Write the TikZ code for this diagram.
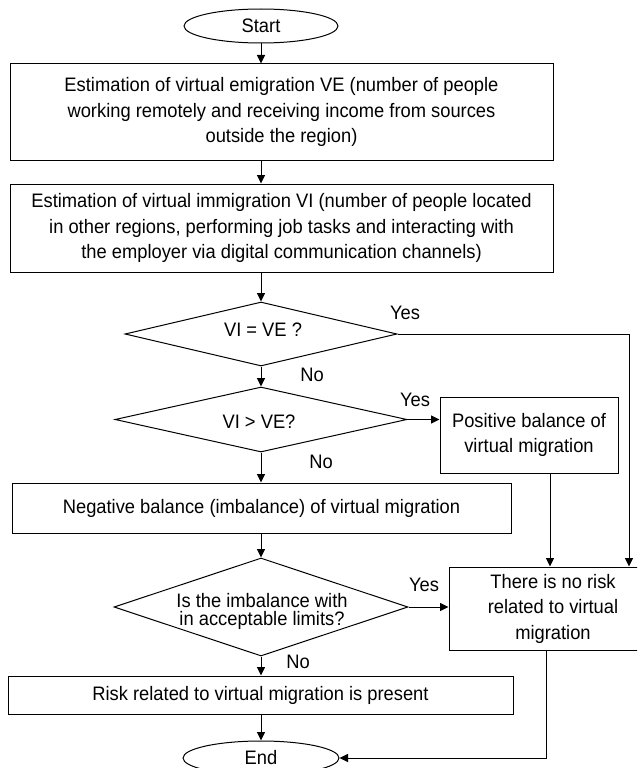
\documentclass[tikz,border=0pt]{standalone}
\usepackage{fontspec}
\setmainfont{Liberation Sans}[FakeStretch=0.94]
\usetikzlibrary{shapes.geometric,arrows.meta}
\begin{document}
\begin{tikzpicture}[x=1pt,y=-1pt,
  every node/.style={font=\fontsize{19.5}{25.5}\selectfont, inner sep=0pt},
  box/.style={draw, line width=1pt, rectangle, align=center},
  dia/.style={draw, line width=1pt, diamond},
  oval/.style={draw, line width=1pt, ellipse},
  conn/.style={line width=1pt},
  arr/.style={line width=1pt, -{Triangle[length=8.5pt,width=8pt]}},
  lbl/.style={}
]
\useasboundingbox (0,0) rectangle (637,768);
\clip (0,0) rectangle (637,768);

% nodes
\node[oval, minimum width=154pt, minimum height=34pt] (start) at (261,26) {Start};
\node[box, minimum width=543pt, minimum height=96pt] (b1) at (281.5,112)
  {Estimation of virtual emigration VE (number of people\\working remotely and receiving income from sources\\outside the region)};
\node[box, minimum width=543pt, minimum height=88pt] (b2) at (281.5,228)
  {Estimation of virtual immigration VI (number of people located\\in other regions, performing job tasks and interacting with\\the employer via digital communication channels)};
\node[dia, minimum width=272pt, minimum height=64pt] (d1) at (261,334) {};
\node at (263,330) {VI = VE ?};
\node[dia, minimum width=292pt, minimum height=65pt] (d2) at (261,419.5) {};
\node at (259,422) {VI > VE?};
\node[box, minimum width=178pt, minimum height=76pt] (pos) at (529,435)
  {Positive balance of\\virtual migration};
\node[box, minimum width=499pt, minimum height=50pt] (neg) at (261.5,508)
  {Negative balance (imbalance) of virtual migration};
\node[dia, minimum width=294pt, minimum height=98pt] (d3) at (261,607) {};
\node[align=center, font=\fontsize{19.5}{18}\selectfont] at (262,611)
  {Is the imbalance with\\in acceptable limits?};
\node[box, minimum width=208pt, minimum height=83pt] (nr) at (553,608.5)
  {There is no risk\\related to virtual\\migration};
\node[box, minimum width=505pt, minimum height=38pt] (risk) at (260.5,695)
  {Risk related to virtual migration is present};
\node[oval, minimum width=156pt, minimum height=34pt] (end) at (261,758) {End};

% labels
\node[lbl] (y1) at (405,313) {Yes};
\node[lbl] (n1) at (312,375) {No};
\node[lbl] (y2) at (415,400) {Yes};
\node[lbl] (n2) at (321,462) {No};
\node[lbl] (y3) at (424,585) {Yes};
\node[lbl] (n3) at (298,662) {No};

% helper coordinates
\coordinate (c1) at (629,334);
\coordinate (p1) at (550,473);
\coordinate (q1) at (546,650);
\coordinate (q2) at (546,758);

% connectors
\draw[arr] (start.south) -- (start |- b1.north);
\draw[arr] (start |- b1.south) -- (start |- b2.north);
\draw[arr] (start |- b2.south) -- (d1.north);
\draw[arr] (d1.south) -- (d2.north);
\draw[arr] (d2.south) -- (d2 |- neg.north);
\draw[arr] (d2 |- neg.south) -- (d3.north);
\draw[arr] (d3.south) -- (d3 |- risk.north);
\draw[arr] (d3 |- risk.south) -- (end.north);
\draw[arr] (d1.east) -- (c1) -- (c1 |- nr.north);
\draw[arr] (d2.east) -- (d2.east -| pos.west);
\draw[arr] (p1) -- (p1 |- nr.north);
\draw[arr] (d3.east) -- (d3.east -| nr.west);
\draw[arr] (q1) -- (q2) -- (end.east);
\end{tikzpicture}
\end{document}
